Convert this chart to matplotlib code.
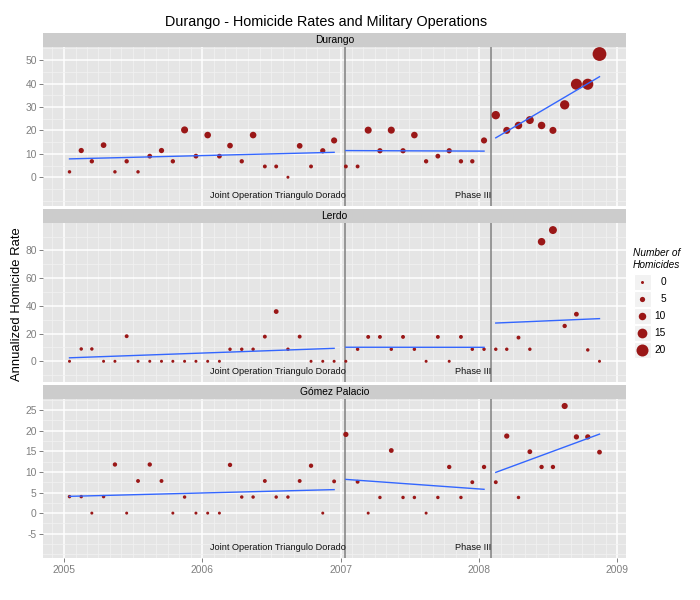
#!/usr/bin/env python3
"""Durango homicide rates by municipality with military operation markers.

Three stacked facets (Durango, Lerdo, Gomez Palacio) share the monthly date
axis. Point size = number of homicides that month, blue lines = linear fits
inside each period delimited by the two operations.
"""
import matplotlib
matplotlib.use("Agg")
import matplotlib.pyplot as plt
import matplotlib.dates as mdates
import matplotlib.transforms as mtransforms
import numpy as np
import pandas as pd

plt.rcParams["font.family"] = ["Liberation Sans", "DejaVu Sans"]
plt.rcParams["axes.unicode_minus"] = False

# monthly observations, Jan 2005 .. Nov 2008 (plotted mid-month)
MONTHS = pd.date_range("2005-01-01", "2008-11-01", freq="MS") + pd.Timedelta(days=14)

MUNICIPALITIES = ["Durango", "Lerdo", "Gómez Palacio"]

DURANGO_RATE = [2.3, 11.4, 6.8, 13.7, 2.3, 6.8, 2.3, 9.0, 11.4, 6.8, 20.2, 9.0,
                18.0, 9.0, 13.5, 6.8, 18.0, 4.6, 4.6, 0.0, 13.4, 4.6, 11.3, 15.7,
                4.6, 4.6, 20.1, 11.3, 20.1, 11.3, 18.0, 6.8, 9.0, 11.3, 6.8, 6.8,
                15.7, 26.5, 20.0, 22.1, 24.4, 22.1, 20.0, 30.9, 39.7, 39.7, 52.6]
DURANGO_N = [1, 5, 3, 6, 1, 3, 1, 4, 5, 3, 9, 4,
             8, 4, 6, 3, 8, 2, 2, 0, 6, 2, 5, 7,
             2, 2, 9, 5, 9, 5, 8, 3, 4, 5, 3, 3,
             7, 12, 9, 10, 11, 10, 9, 14, 18, 18, 24]

LERDO_RATE = [0.0, 8.9, 8.9, 0.0, 0.0, 18.1, 0.0, 0.0, 0.0, 0.0, 0.0, 0.0,
              0.0, 0.0, 8.7, 8.7, 8.7, 17.8, 35.9, 8.7, 17.8, 0.0, 0.0, 0.0,
              0.0, 8.7, 17.6, 17.6, 8.7, 17.6, 8.7, 0.0, 17.6, 0.0, 17.6, 8.7,
              8.7, 8.7, 8.7, 17.1, 8.7, 86.3, 94.7, 25.5, 34.0, 8.2, 0.0]
LERDO_N = [0, 1, 1, 0, 0, 2, 0, 0, 0, 0, 0, 0,
           0, 0, 1, 1, 1, 2, 4, 1, 2, 0, 0, 0,
           0, 1, 2, 2, 1, 2, 1, 0, 2, 0, 2, 1,
           1, 1, 1, 2, 1, 10, 11, 3, 4, 1, 0]

GOMEZ_RATE = [4.0, 4.0, 0.0, 4.0, 11.8, 0.0, 7.8, 11.8, 7.8, 0.0, 3.9, 0.0,
              0.0, 0.0, 11.7, 3.9, 3.9, 7.8, 3.9, 3.9, 7.8, 11.5, 0.0, 7.7,
              19.1, 7.6, 0.0, 3.8, 15.2, 3.8, 3.8, 0.0, 3.8, 11.2, 3.8, 7.5,
              11.2, 7.5, 18.7, 3.8, 14.9, 11.2, 11.2, 26.0, 18.5, 18.5, 14.8]
GOMEZ_N = [1, 1, 0, 1, 3, 0, 2, 3, 2, 0, 1, 0,
           0, 0, 3, 1, 1, 2, 1, 1, 2, 3, 0, 2,
           5, 2, 0, 1, 4, 1, 1, 0, 1, 3, 1, 2,
           3, 2, 5, 1, 4, 3, 3, 7, 5, 5, 4]

OPERATIONS = ["Joint Operation Triangulo Dorado", "Phase III"]
OPERATION_DATES = pd.to_datetime(["2007-01-13", "2008-02-02"])

LEGEND_COUNTS = [0, 5, 10, 15, 20]

C_POINT = "#9a1717"
C_FIT = "#3366ff"
C_PANEL = "#e5e5e5"
C_STRIP = "#cccccc"
C_TICK = "#7f7f7f"

W, H = 700, 600


def marker_area(n):
    # ggplot-ish linear radius scale, diameter in px -> area in pt^2
    d_px = 3.0 + 0.45 * np.asarray(n, dtype=float)
    return (d_px * 0.72) ** 2


def px_axes(fig, left, top, right, bottom):
    return fig.add_axes([left / W, 1 - bottom / H, (right - left) / W, (bottom - top) / H])


def half_steps(lo, hi, step, majors):
    k0, k1 = int(np.ceil(lo / (step / 2))), int(np.floor(hi / (step / 2)))
    vals = [k * step / 2 for k in range(k0, k1 + 1)]
    return [v for v in vals if not np.isclose(majors, v).any()]


def panel(ax, rates, counts, ylim, majors, step, show_x):
    x = mdates.date2num(MONTHS.to_pydatetime())
    rates = np.asarray(rates, dtype=float)
    ax.set_facecolor(C_PANEL)
    for s in ax.spines.values():
        s.set_visible(False)

    span = x.max() - x.min()
    ax.set_xlim(x.min() - 0.05 * span, x.max() + 0.05 * span)
    ax.set_ylim(*ylim)
    ax.set_yticks(majors)
    ax.set_yticks(half_steps(ylim[0], ylim[1], step, np.asarray(majors)), minor=True)
    ax.xaxis.set_major_locator(mdates.YearLocator())
    ax.xaxis.set_minor_locator(mdates.MonthLocator())
    ax.xaxis.set_major_formatter(mdates.DateFormatter("%Y"))
    ax.grid(True, which="major", color="white", lw=1.1)
    ax.grid(True, which="minor", color="#f2f2f2", lw=0.5)
    ax.set_axisbelow(True)
    ax.tick_params(which="minor", length=0)
    ax.tick_params(which="major", direction="out", length=3, width=0.7, color=C_TICK,
                   labelcolor=C_TICK, labelsize=7.4, pad=1.5)
    ax.tick_params(axis="x", labelbottom=show_x, length=3 if show_x else 0, pad=2.5)

    ax.scatter(x, rates, s=marker_area(counts), color=C_POINT, linewidths=0, zorder=3)

    # separate linear fit inside each period between operations
    breaks = mdates.date2num(OPERATION_DATES.to_pydatetime())
    seg = np.digitize(x, breaks)
    for k in range(len(breaks) + 1):
        m = seg == k
        b, a = np.polyfit(x[m], rates[m], 1)
        xf = np.array([x[m].min(), x[m].max()])
        ax.plot(xf, a + b * xf, color=C_FIT, lw=1.0, zorder=4)

    trans = mtransforms.blended_transform_factory(ax.transData, ax.transAxes)
    for name, xb in zip(OPERATIONS, breaks):
        ax.axvline(xb, color="#808080", lw=1.1, zorder=2)
        ax.text(xb + 1, 0.066, name, transform=trans, ha="right", va="center",
                fontsize=6.55, color="#111111", zorder=5)


def strip(fig, top, bottom, label):
    sa = px_axes(fig, 43, top, 626, bottom)
    sa.set_facecolor(C_STRIP)
    sa.set_xticks([])
    sa.set_yticks([])
    for s in sa.spines.values():
        s.set_visible(False)
    sa.text(0.5, 0.5, label, transform=sa.transAxes, ha="center", va="center",
            fontsize=7.4, color="black")


def legend(fig):
    la = px_axes(fig, 628, 240, 700, 362)
    la.set_xlim(628, 700)
    la.set_ylim(362, 240)
    la.axis("off")
    la.text(633, 259, "Number of\nHomicides", ha="left", va="center",
            fontsize=7.3, style="italic", linespacing=1.3)
    for i, n in enumerate(LEGEND_COUNTS):
        cy = 281.5 + 17 * i
        la.add_patch(plt.Rectangle((634, cy - 8), 16.5, 16.5, facecolor="#f2f2f2",
                                   edgecolor="white", lw=0.8))
        la.scatter([642.2], [cy + 0.2], s=marker_area([n]), color=C_POINT, linewidths=0)
        la.text(666, cy, str(n), ha="right", va="center", fontsize=7.3)


def main():
    fig = plt.figure(figsize=(W / 100, H / 100), dpi=100)
    data = [(DURANGO_RATE, DURANGO_N), (LERDO_RATE, LERDO_N), (GOMEZ_RATE, GOMEZ_N)]
    tops = [33, 209, 385]
    ylims = [(-12.2, 55.6), (-14.8, 99.8), (-10.85, 27.7)]
    majors = [[0, 10, 20, 30, 40, 50], [0, 20, 40, 60, 80], [-5, 0, 5, 10, 15, 20, 25]]
    steps = [10, 20, 5]
    for i, (name, (rate, n)) in enumerate(zip(MUNICIPALITIES, data)):
        top = tops[i]
        strip(fig, top, top + 14, name)
        ax = px_axes(fig, 43, top + 14, 626, top + 14 + 158.8)
        panel(ax, rate, n, ylims[i], majors[i], steps[i], show_x=(i == 2))

    fig.text(326 / W, 1 - 22 / H, "Durango - Homicide Rates and Military Operations",
             ha="center", va="center", fontsize=10.4)
    fig.text(17 / W, 1 - 304 / H, "Annualized Homicide Rate", rotation=90,
             ha="center", va="center", fontsize=9.4)
    legend(fig)
    fig.savefig("out.png", dpi=100, facecolor="white")
    plt.close(fig)


if __name__ == "__main__":
    main()
